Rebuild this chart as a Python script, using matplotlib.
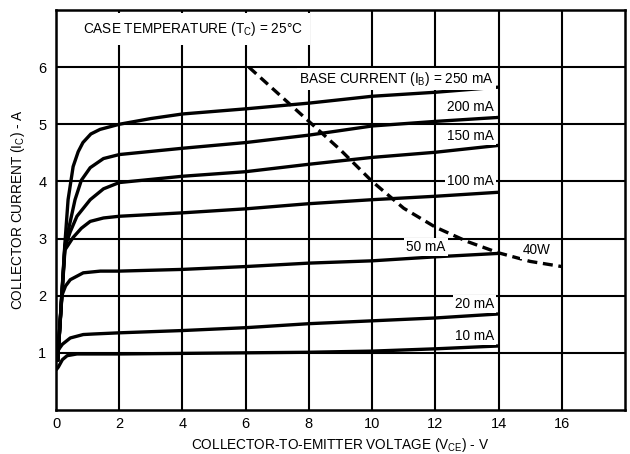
import numpy as np
import matplotlib
matplotlib.use('Agg')
import matplotlib.pyplot as plt

plt.rcParams['font.family'] = ['Liberation Sans', 'DejaVu Sans']
plt.rcParams['mathtext.fontset'] = 'custom'
plt.rcParams['mathtext.rm'] = 'Liberation Sans'
plt.rcParams['mathtext.it'] = 'Liberation Sans'

# collector characteristics (Vce in V, Ic in A)
vce_10 = [0.0, 0.07, 0.2, 0.35, 0.66, 1.0, 2.0, 4.0, 6.0, 8.0, 10.0, 12.0, 14.0]
ic_10 = [0.70, 0.75, 0.88, 0.95, 0.98, 0.98, 0.98, 0.99, 1.0, 1.01, 1.03, 1.07, 1.12]

vce_20 = [0.05, 0.07, 0.2, 0.45, 0.86, 1.2, 2.0, 4.0, 6.0, 8.0, 10.0, 12.0, 14.0]
ic_20 = [0.85, 1.05, 1.15, 1.26, 1.32, 1.33, 1.35, 1.39, 1.44, 1.51, 1.56, 1.61, 1.68]

vce_50 = [0.05, 0.18, 0.3, 0.45, 0.86, 1.4, 2.0, 4.0, 6.0, 8.0, 10.0, 12.0, 14.0]
ic_50 = [0.85, 2.0, 2.17, 2.28, 2.40, 2.43, 2.43, 2.46, 2.51, 2.57, 2.61, 2.68, 2.74]

vce_100 = [0.05, 0.28, 0.54, 0.8, 1.08, 1.5, 2.0, 4.0, 6.0, 8.0, 10.0, 12.0, 14.0]
ic_100 = [0.85, 2.80, 3.02, 3.18, 3.30, 3.36, 3.39, 3.45, 3.52, 3.61, 3.68, 3.74, 3.81]

vce_150 = [0.05, 0.28, 0.45, 0.66, 1.08, 1.5, 2.0, 4.0, 6.0, 8.0, 10.0, 12.0, 14.0]
ic_150 = [0.85, 2.85, 3.12, 3.39, 3.68, 3.87, 3.98, 4.09, 4.17, 4.30, 4.42, 4.51, 4.63]

vce_200 = [0.05, 0.28, 0.45, 0.6, 0.8, 1.08, 1.5, 2.0, 4.0, 6.0, 8.0, 10.0, 12.0, 14.0]
ic_200 = [0.85, 2.88, 3.30, 3.68, 4.02, 4.24, 4.40, 4.47, 4.58, 4.68, 4.81, 4.97, 5.05, 5.12]

vce_250 = [0.05, 0.28, 0.38, 0.54, 0.7, 0.85, 1.1, 1.39, 2.0, 3.0, 4.0, 6.0, 8.0, 10.0, 12.0, 14.0]
ic_250 = [0.85, 2.92, 3.68, 4.26, 4.52, 4.68, 4.83, 4.91, 5.0, 5.1, 5.18, 5.27, 5.37, 5.49, 5.56, 5.65]

# 40 W dissipation limit (dashed)
vce_40w = [6.1, 7.0, 8.0, 9.0, 10.0, 11.0, 12.0, 13.0, 14.0, 15.0, 16.0]
ic_40w = [6.0, 5.55, 5.05, 4.55, 4.0, 3.53, 3.2, 2.95, 2.75, 2.6, 2.51]

xticks = [0, 2, 4, 6, 8, 10, 12, 14, 16]
yticks = [1, 2, 3, 4, 5, 6]

fig = plt.figure(figsize=(6.3, 4.54), dpi=100)
ax = fig.add_axes([0.089, 0.097, 0.903, 0.881])

ax.set_xlim(0, 18)
ax.set_ylim(0, 7)
ax.set_xticks(xticks)
ax.set_yticks(yticks)
ax.tick_params(length=0, labelsize=10.5)
ax.tick_params(axis='x', pad=5)
ax.tick_params(axis='y', pad=7)
ax.grid(True, color='black', linewidth=1.5)
ax.set_axisbelow(True)
for s in ax.spines.values():
    s.set_linewidth(1.8)

curves = [(vce_10, ic_10), (vce_20, ic_20), (vce_50, ic_50), (vce_100, ic_100),
          (vce_150, ic_150), (vce_200, ic_200), (vce_250, ic_250)]
for v, i in curves:
    ax.plot(v, i, color='black', linewidth=2.4, solid_capstyle='butt',
            solid_joinstyle='round', zorder=3)

ax.plot(vce_40w, ic_40w, color='black', linewidth=2.4, dashes=(3.0, 1.7), zorder=3)

box = dict(facecolor='white', edgecolor='none', pad=1.5)
fs = 9.8
ax.text(0.85, 6.66, 'CASE TEMPERATURE (T$_{\\mathrm{C}}$) = 25°C', fontsize=fs,
        ha='left', va='center', bbox=dict(facecolor='white', edgecolor='none', pad=5), zorder=4)
ax.text(13.85, 5.79, 'BASE CURRENT (I$_{\\mathrm{B}}$) = 250 mA', fontsize=fs,
        ha='right', va='center', bbox=box, zorder=4)
ax.text(13.85, 5.30, '200 mA', fontsize=fs, ha='right', va='center', bbox=box, zorder=4)
ax.text(13.85, 4.79, '150 mA', fontsize=fs, ha='right', va='center', bbox=box, zorder=4)
ax.text(13.85, 4.0, '100 mA', fontsize=fs, ha='right', va='center', bbox=box, zorder=4)
ax.text(11.7, 2.86, '50 mA', fontsize=fs, ha='center', va='center', bbox=box, zorder=4)
ax.text(15.2, 2.8, '40W', fontsize=fs, ha='center', va='center', bbox=box, zorder=4)
ax.text(13.85, 1.86, '20 mA', fontsize=fs, ha='right', va='center', bbox=box, zorder=4)
ax.text(13.85, 1.30, '10 mA', fontsize=fs, ha='right', va='center', bbox=box, zorder=4)

ax.set_xlabel('COLLECTOR-TO-EMITTER VOLTAGE (V$_{\\mathrm{CE}}$) - V', fontsize=fs, labelpad=3.5)
ax.set_ylabel('COLLECTOR CURRENT (I$_{\\mathrm{C}}$) - A', fontsize=fs, labelpad=8)

fig.savefig('out.png', dpi=100)
